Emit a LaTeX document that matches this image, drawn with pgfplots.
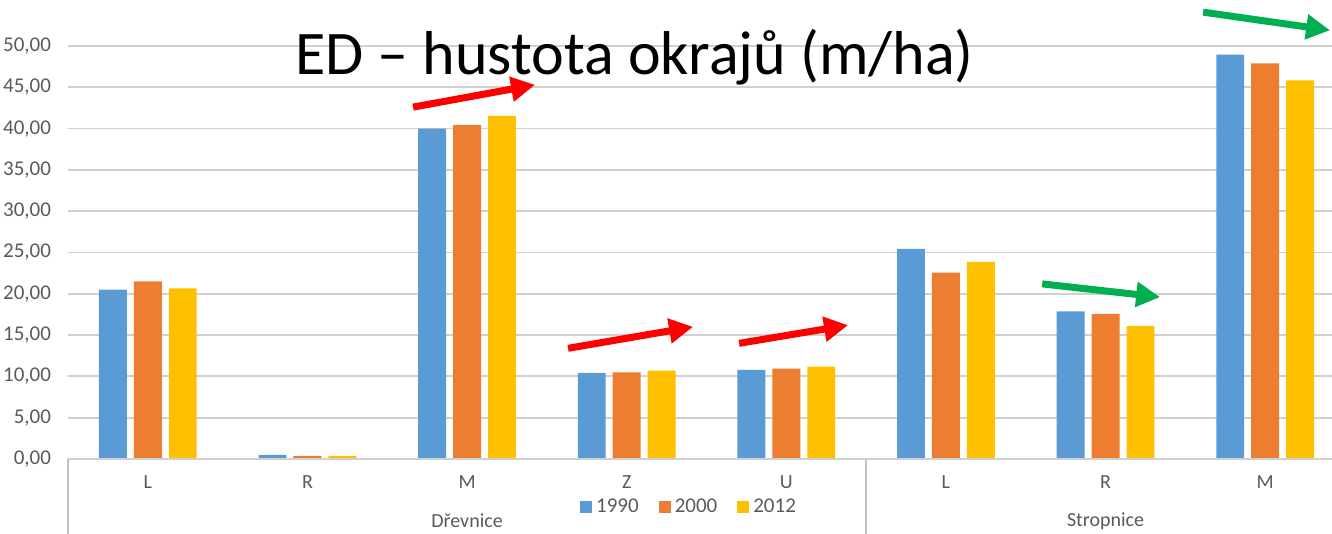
\documentclass[border=0pt]{standalone}
\usepackage{pgfplots}
\pgfplotsset{compat=1.18}
\usepackage{fontspec}
\setmainfont{Carlito}
\usetikzlibrary{arrows.meta}
\definecolor{cA}{HTML}{5B9BD5}
\definecolor{cB}{HTML}{ED7D31}
\definecolor{cC}{HTML}{FFC000}
\definecolor{txtgray}{HTML}{595959}
\definecolor{gridgray}{HTML}{D0D0D0}
\definecolor{arrred}{HTML}{FF0000}
\definecolor{arrgreen}{HTML}{00B050}
\begin{document}
\begin{tikzpicture}
\begin{axis}[
  at={(0,0)}, anchor=south west,
  scale only axis, width=638.5pt, height=206.5pt,
  xmin=-0.5, xmax=7.5, ymin=0, ymax=50,
  clip=false,
  axis line style={draw=none},
  major tick length=0pt,
  ytick={0,5,...,50},
  ymajorgrids, grid style={color=gridgray, line width=0.9pt},
  /pgf/number format/fixed,
  /pgf/number format/fixed zerofill,
  /pgf/number format/precision=2,
  /pgf/number format/use comma,
  /pgf/number format/assume math mode=true,
  yticklabel style={font=\fontsize{10.5}{12}\selectfont, text=txtgray, xshift=-5pt},
  xtick={0,...,7},
  xticklabels={L,R,M,Z,U,L,R,M},
  xticklabel style={font=\fontsize{10}{12}\selectfont, text=txtgray, yshift=-5pt},
  legend columns=3,
  legend style={at={(axis cs:3.397,-5.81)}, anchor=center, draw=none, fill=none,
    font=\fontsize{10.5}{12}\selectfont, text=txtgray,
    /tikz/every even column/.append style={column sep=8pt}},
  legend image code/.code={\fill[#1] (0pt,-3pt) rectangle (6pt,3pt);},
]
\addplot[ybar, bar width=0.175, bar shift=-0.219, fill=cA, draw=none] coordinates {
(0,20.50) (1,0.50) (2,40.00) (3,10.44) (4,10.80) (5,25.45) (6,17.86) (7,48.97)};
\addplot[ybar, bar width=0.175, bar shift=0, fill=cB, draw=none] coordinates {
(0,21.50) (1,0.37) (2,40.45) (3,10.50) (4,10.93) (5,22.57) (6,17.57) (7,47.90)};
\addplot[ybar, bar width=0.175, bar shift=0.219, fill=cC, draw=none] coordinates {
(0,20.67) (1,0.37) (2,41.55) (3,10.70) (4,11.17) (5,23.85) (6,16.13) (7,45.83)};
\legend{1990,2000,2012}
% axis baseline
\draw[gridgray, line width=0.9pt] (axis cs:-0.5,0) -- (axis cs:7.5,0);
% group separators
\draw[gridgray!80!gray, line width=0.9pt] (axis cs:-0.5,0) -- (axis cs:-0.5,-9.08);
\draw[gridgray!80!gray, line width=0.9pt] (axis cs:4.5,0) -- (axis cs:4.5,-9.08);
% group labels
\node[font=\fontsize{10}{12}\selectfont, text=txtgray] at (axis cs:2,-7.5) {Dřevnice};
\node[font=\fontsize{10}{12}\selectfont, text=txtgray] at (axis cs:6,-7.5) {Stropnice};
% title
\node[anchor=base, font=\fontsize{31}{36}\selectfont, text=black] at (axis cs:3.05,46.5) {ED – hustota okrajů (m/ha)};
% arrows
\draw[arrred, line width=3.5pt, -{Triangle[length=12pt,width=12pt]}] (axis cs:1.662,42.6) -- (axis cs:2.426,45.3);
\draw[arrred, line width=3.5pt, -{Triangle[length=12pt,width=12pt]}] (axis cs:2.633,13.4) -- (axis cs:3.416,16.0);
\draw[arrred, line width=3.5pt, -{Triangle[length=12pt,width=12pt]}] (axis cs:3.704,14.0) -- (axis cs:4.387,16.2);
\draw[arrgreen, line width=3.5pt, -{Triangle[length=12pt,width=12pt]}] (axis cs:6.611,54.1) -- (axis cs:7.407,51.9);
\draw[arrgreen, line width=3.5pt, -{Triangle[length=12pt,width=12pt]}] (axis cs:5.603,21.2) -- (axis cs:6.342,19.6);
\end{axis}
\pgfresetboundingbox
\path (-34pt,-37.5pt) rectangle (632pt,229.5pt);
\end{tikzpicture}
\end{document}
